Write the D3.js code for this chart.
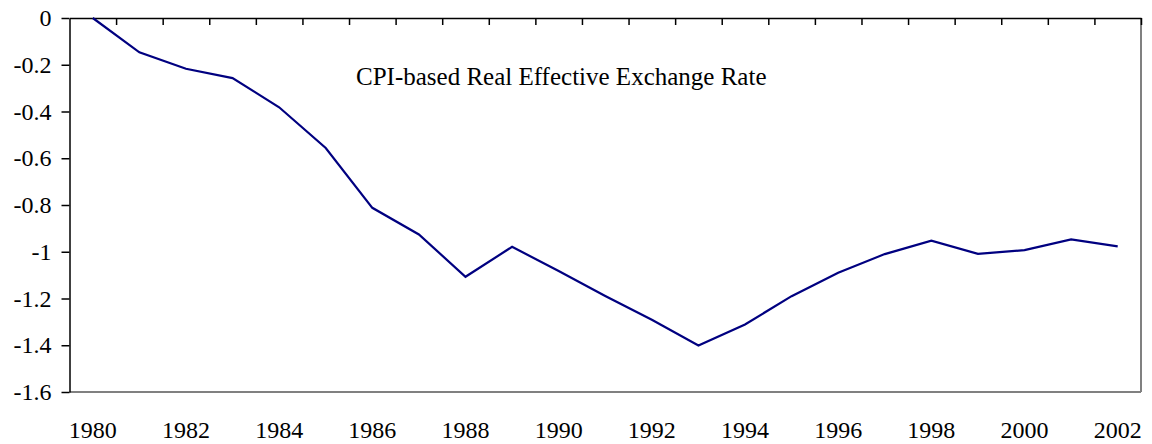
<!DOCTYPE html>
<html>
<head>
<meta charset="utf-8">
<script src="https://cdn.jsdelivr.net/npm/d3@7"></script>
<style>
  body { margin: 0; background: #fff; }
  svg { display: block; font-family: "Liberation Serif", "Times New Roman", serif; }
  .tick text { fill: #000; }
</style>
</head>
<body>
<svg id="chart"></svg>
<script>
const years = ['1980', '1981', '1982', '1983', '1984', '1985', '1986', '1987', '1988', '1989', '1990', '1991',
  '1992', '1993', '1994', '1995', '1996', '1997', '1998', '1999', '2000', '2001', '2002'];
const reer = [0, -0.147, -0.217, -0.257, -0.382, -0.556, -0.812, -0.926, -1.107, -0.979, -1.082, -1.189,
  -1.291, -1.401, -1.311, -1.190, -1.090, -1.010, -0.953, -1.009, -0.993, -0.947, -0.977];
const yTicks = [0, -0.2, -0.4, -0.6, -0.8, -1, -1.2, -1.4, -1.6];
const yTickLabels = ['0', '-0.2', '-0.4', '-0.6', '-0.8', '-1', '-1.2', '-1.4', '-1.6'];
const xTickLabels = ['1980', '1982', '1984', '1986', '1988', '1990', '1992', '1994', '1996', '1998', '2000', '2002'];
const title = 'CPI-based Real Effective Exchange Rate';

const width = 1152;
const height = 444;
const plot = { left: 69.5, right: 1141, top: 18, bottom: 392 };

const svg = d3.select('#chart').attr('width', width).attr('height', height);

const x = d3.scaleBand().domain(years).range([plot.left, plot.right]).padding(0);
const xEdge = d3.scaleLinear().domain([0, years.length]).range([plot.left, plot.right]);
const y = d3.scaleLinear().domain([-1.6, 0]).range([plot.bottom, plot.top]);

// bottom and right frame (grey)
svg.append('line')
  .attr('x1', plot.left).attr('x2', plot.right)
  .attr('y1', plot.bottom).attr('y2', plot.bottom)
  .attr('stroke', '#808080').attr('stroke-width', 2);
svg.append('line')
  .attr('x1', plot.right).attr('x2', plot.right)
  .attr('y1', plot.top).attr('y2', plot.bottom)
  .attr('stroke', '#808080').attr('stroke-width', 2);

// category axis at y = 0, ticks between categories pointing down
const catAxis = svg.append('g')
  .attr('transform', `translate(0,${y(0)})`)
  .call(d3.axisBottom(xEdge).tickValues(d3.range(1, years.length + 1)).tickSize(7).tickSizeOuter(0).tickFormat(''));
catAxis.selectAll('path, line').attr('stroke', '#000').attr('stroke-width', 1.5);

// year labels under the plot
const labelAxis = svg.append('g')
  .attr('transform', `translate(0,${plot.bottom})`)
  .call(d3.axisBottom(x).tickValues(xTickLabels).tickSize(0).tickPadding(29));
labelAxis.attr('font-family', null).attr('font-size', 24);
labelAxis.select('.domain').remove();

// value axis
const yAxis = svg.append('g')
  .attr('transform', `translate(${plot.left},0)`)
  .call(d3.axisLeft(y).tickValues(yTicks).tickSize(8).tickSizeOuter(0).tickPadding(10)
    .tickFormat((d, i) => yTickLabels[i]));
yAxis.attr('font-family', null).attr('font-size', 24);
yAxis.selectAll('path, line').attr('stroke', '#000').attr('stroke-width', 1.5);

// series
const line = d3.line()
  .x((d, i) => x(years[i]) + x.bandwidth() / 2)
  .y(d => y(d));
svg.append('path')
  .datum(reer)
  .attr('d', line)
  .attr('fill', 'none')
  .attr('stroke', '#000080')
  .attr('stroke-width', 2.2)
  .attr('stroke-linejoin', 'miter');

svg.append('text')
  .attr('x', 356)
  .attr('y', 85)
  .attr('font-size', 25)
  .attr('fill', '#000')
  .text(title);
</script>
</body>
</html>
